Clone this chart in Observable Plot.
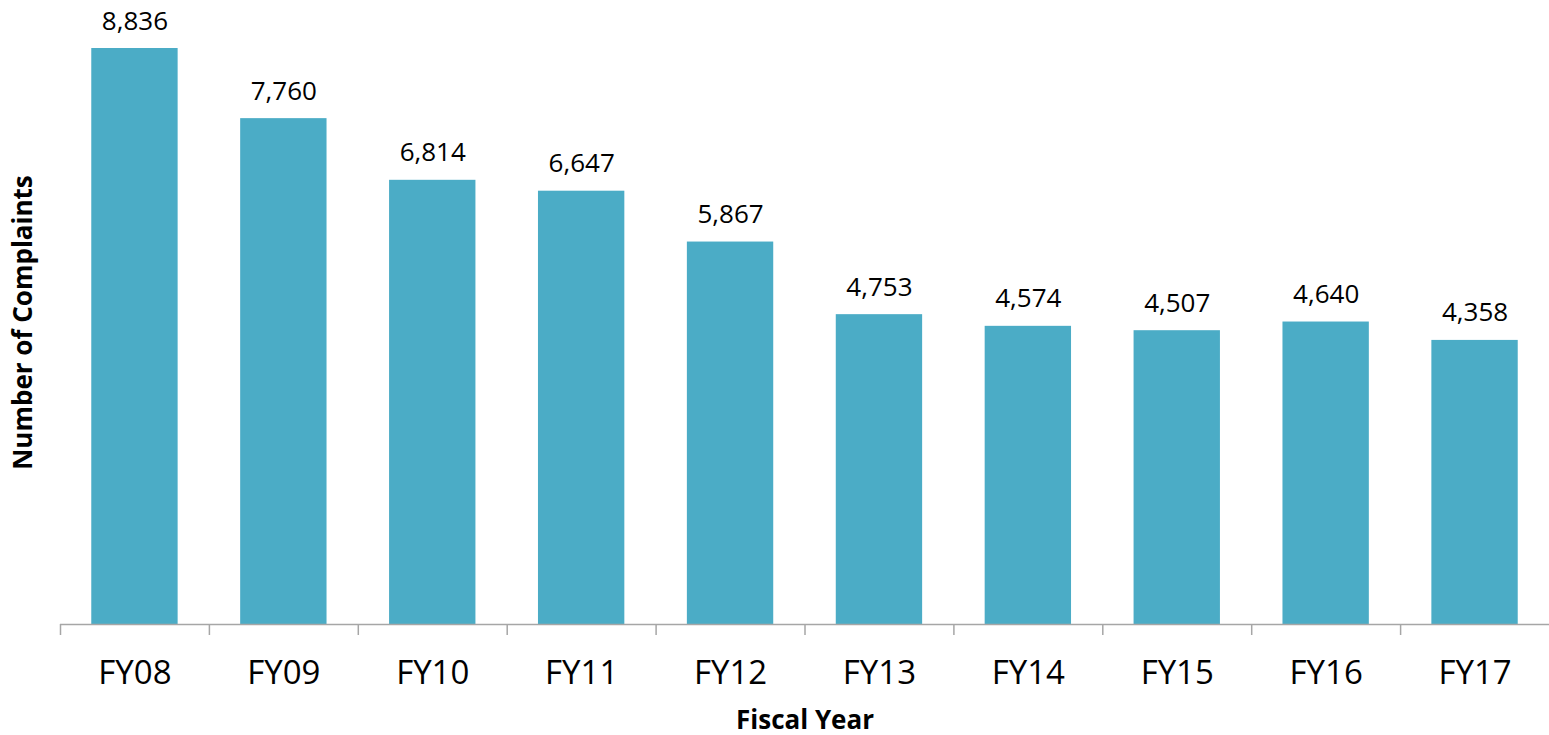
<!DOCTYPE html>
<html>
<head>
<meta charset="utf-8">
<script src="https://cdn.jsdelivr.net/npm/d3@7"></script>
<script src="https://cdn.jsdelivr.net/npm/@observablehq/plot@0.6"></script>
<style>
  html, body { margin: 0; padding: 0; background: #fff; }
  svg { display: block; }
</style>
</head>
<body>
<div id="chart"></div>
<script>
const years = ["FY08","FY09","FY10","FY11","FY12","FY13","FY14","FY15","FY16","FY17"];
const complaints = [8836, 7760, 6814, 6647, 5867, 4753, 4574, 4507, 4640, 4358];
const xTitle = "Fiscal Year";
const yTitle = "Number of Complaints";

const data = years.map((y, i) => ({year: y, value: complaints[i]}));

const W = 1549, H = 735, mL = 60, mR = 0, mT = 48, mB = 111;
const step = (W - mL - mR) / years.length;
const font = "'Open Sans', 'Liberation Sans', sans-serif";

const chart = Plot.plot({
  width: W,
  height: H,
  marginLeft: mL,
  marginRight: mR,
  marginTop: mT,
  marginBottom: mB,
  style: {fontFamily: font, background: "#fff", color: "#000"},
  x: {domain: years, paddingInner: 0.42, paddingOuter: 0.21, round: false, axis: null},
  y: {domain: [0, d3.max(complaints)], axis: null},
  marks: [
    Plot.barY(data, {x: "year", y: "value", fill: "#4BACC6"}),
    Plot.ruleY([0], {stroke: "#a6a6a6", strokeWidth: 1.5}),
    Plot.ruleX(years, {x: d => d, y1: 0, y2: 0, dx: -step / 2, insetBottom: -11, stroke: "#a6a6a6", strokeWidth: 1.5}),
    Plot.text(data, {x: "year", y: "value", text: d => d3.format(",")(d.value), lineAnchor: "bottom", dy: -19, fontSize: 26, fill: "#000"}),
    Plot.axisX({tickSize: 0, tickPadding: 36, fontSize: 33, label: null, fill: "#000"}),
    Plot.text([xTitle], {frameAnchor: "bottom", dy: 104, lineAnchor: "bottom", textAnchor: "middle", fontWeight: "bold", fontSize: 26, fill: "#000"}),
    Plot.text([yTitle], {frameAnchor: "left", textAnchor: "middle", dx: -37, dy: -14, rotate: -90, fontWeight: "bold", fontSize: 26, fill: "#000"})
  ]
});
document.getElementById("chart").appendChild(chart);
</script>
</body>
</html>
